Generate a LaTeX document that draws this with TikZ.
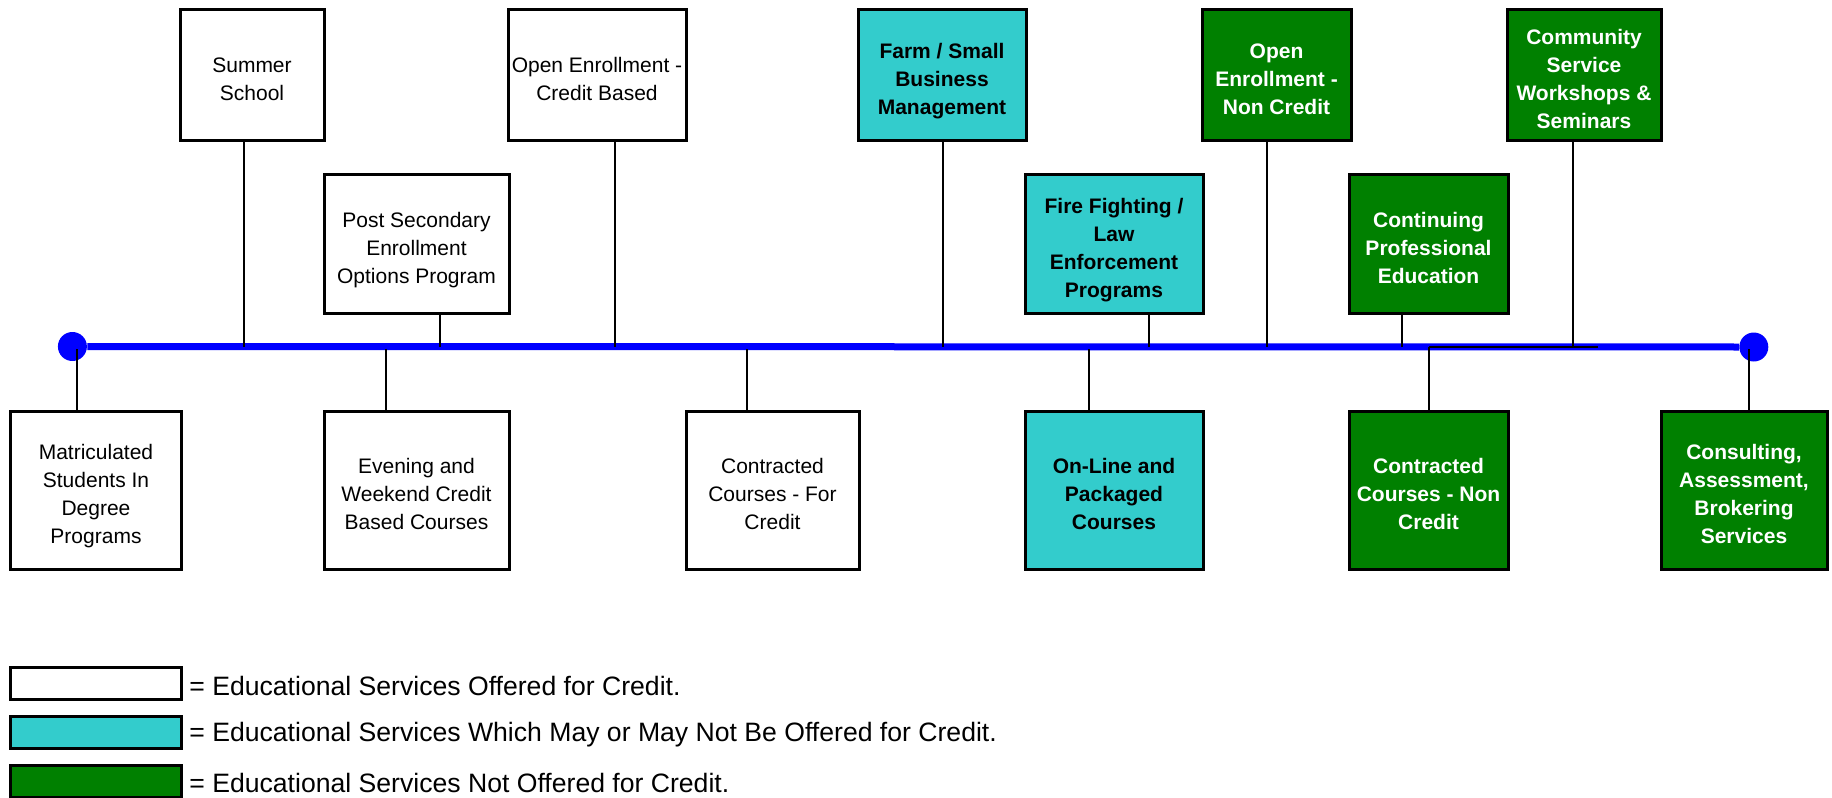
\documentclass[tikz,border=0pt]{standalone}
\usepackage{fontspec}
\setmainfont{Liberation Sans}
\definecolor{tealc}{HTML}{33CCCC}
\definecolor{greenc}{HTML}{008000}
\definecolor{bluec}{HTML}{0000FF}
\newcommand\bxt[1]{\raisebox{-3pt}[\height][\depth]{\begin{tabular}{@{}c@{}}#1\end{tabular}}}
\begin{document}
\begin{tikzpicture}[x=0.5pt,y=-0.5pt,
  boxbase/.style={draw=black, line width=1.5pt, inner sep=0pt,
    font=\fontsize{10.5}{14}\selectfont},
  credit/.style={boxbase, fill=white},
  maybe/.style={boxbase, fill=tealc, font=\fontsize{10.5}{14}\selectfont\bfseries},
  noncredit/.style={boxbase, fill=greenc, text=white, font=\fontsize{10.5}{14}\selectfont\bfseries},
  topbox/.style={minimum height=65.5pt},
  midbox/.style={minimum height=69.5pt},
  botbox/.style={minimum height=79pt},
  dot/.style={circle, fill=bluec, inner sep=0pt, minimum size=14.5pt},
  timeline/.style={draw=bluec, line width=3.5pt},
  conn/.style={draw=black, line width=0.7pt},
  legbox/.style={draw=black, line width=1.5pt, inner sep=0pt, minimum width=85.75pt, minimum height=16pt},
  legtext/.style={anchor=west, inner sep=0pt, font=\fontsize{13.3}{16}\selectfont}
]
\useasboundingbox (0,0) rectangle (1832,798);

% timeline
\node[dot] (lc) at (72.4,346.5) {};
\node[dot] (rc) at (1753.8,347) {};
\draw[timeline] (lc) -- (rc);

% top row
\node[credit, topbox, minimum width=72pt] (summer) at (252,74.5) {\bxt{Summer\\School}};
\node[credit, topbox, minimum width=89pt] (opencred) at (597,74.5) {\bxt{Open Enrollment -\\Credit Based}};
\node[maybe, topbox, minimum width=84pt] (farm) at (942,74.5) {\bxt{Farm / Small\\Business\\Management}};
\node[noncredit, topbox, minimum width=74.5pt] (opennon) at (1276.5,74.5) {\bxt{Open\\Enrollment -\\Non Credit}};
\node[noncredit, topbox, minimum width=77pt] (community) at (1584,74.5) {\bxt{Community\\Service\\Workshops \&\\Seminars}};

% middle row
\node[credit, midbox, minimum width=92.5pt] (postsec) at (416.5,243.5) {\bxt{Post Secondary\\Enrollment\\Options Program}};
\node[maybe, midbox, minimum width=89pt] (fire) at (1114,243.5) {\bxt{Fire Fighting /\\Law\\Enforcement\\Programs}};
\node[noncredit, midbox, minimum width=79.5pt] (contin) at (1428.5,243.5) {\bxt{Continuing\\Professional\\Education}};

% bottom row
\node[credit, botbox, minimum width=85.75pt] (matric) at (96,490) {\bxt{Matriculated\\Students In\\Degree\\Programs}};
\node[credit, botbox, minimum width=92.5pt] (evening) at (416.5,490) {\bxt{Evening and\\Weekend Credit\\Based Courses}};
\node[credit, botbox, minimum width=86.5pt] (contrcred) at (772.5,490) {\bxt{Contracted\\Courses - For\\Credit}};
\node[maybe, botbox, minimum width=89pt] (online) at (1114,490) {\bxt{On-Line and\\Packaged\\Courses}};
\node[noncredit, botbox, minimum width=79.5pt] (contrnon) at (1428.5,490) {\bxt{Contracted\\Courses - Non\\Credit}};
\node[noncredit, botbox, minimum width=83pt] (consult) at (1744,490) {\bxt{Consulting,\\Assessment,\\Brokering\\Services}};

% connector points on the timeline
\coordinate (pSummer) at (244,347);
\coordinate (pPost) at (440,347);
\coordinate (pOpenCred) at (615,347);
\coordinate (pFarm) at (943,347);
\coordinate (pFire) at (1149,347);
\coordinate (pOpenNon) at (1267,347);
\coordinate (pContin) at (1402,347);
\coordinate (pComm) at (1573,347);
\coordinate (pMatric) at (77,349);
\coordinate (pEvening) at (386,349);
\coordinate (pContrCred) at (747,349);
\coordinate (pOnline) at (1089,349);
\coordinate (pContrNon) at (1429,347);
\coordinate (pConsult) at (1749,349);
\coordinate (pBarEnd) at (1598,347);

\draw[conn] (pSummer |- summer.south) -- (pSummer);
\draw[conn] (pPost |- postsec.south) -- (pPost);
\draw[conn] (pOpenCred |- opencred.south) -- (pOpenCred);
\draw[conn] (pFarm |- farm.south) -- (pFarm);
\draw[conn] (pFire |- fire.south) -- (pFire);
\draw[conn] (pOpenNon |- opennon.south) -- (pOpenNon);
\draw[conn] (pContin |- contin.south) -- (pContin);
\draw[conn] (pComm |- community.south) -- (pComm);
\draw[conn] (pContrNon) -- (pBarEnd);

\draw[conn] (pMatric) -- (pMatric |- matric.north);
\draw[conn] (pEvening) -- (pEvening |- evening.north);
\draw[conn] (pContrCred) -- (pContrCred |- contrcred.north);
\draw[conn] (pOnline) -- (pOnline |- online.north);
\draw[conn] (pContrNon) -- (pContrNon |- contrnon.north);
\draw[conn] (pConsult) -- (pConsult |- consult.north);

% legend
\node[legbox, fill=white] (lg1) at (96,683) {};
\node[legbox, fill=tealc] (lg2) at (96,732.5) {};
\node[legbox, fill=greenc] (lg3) at (96,781.5) {};
\node[legtext] (lt1) at (189,686) {= Educational Services Offered for Credit.};
\node[legtext] (lt2) at (189,734.5) {= Educational Services Which May or May Not Be Offered for Credit.};
\node[legtext] (lt3) at (189,783) {= Educational Services Not Offered for Credit.};
\end{tikzpicture}
\end{document}
